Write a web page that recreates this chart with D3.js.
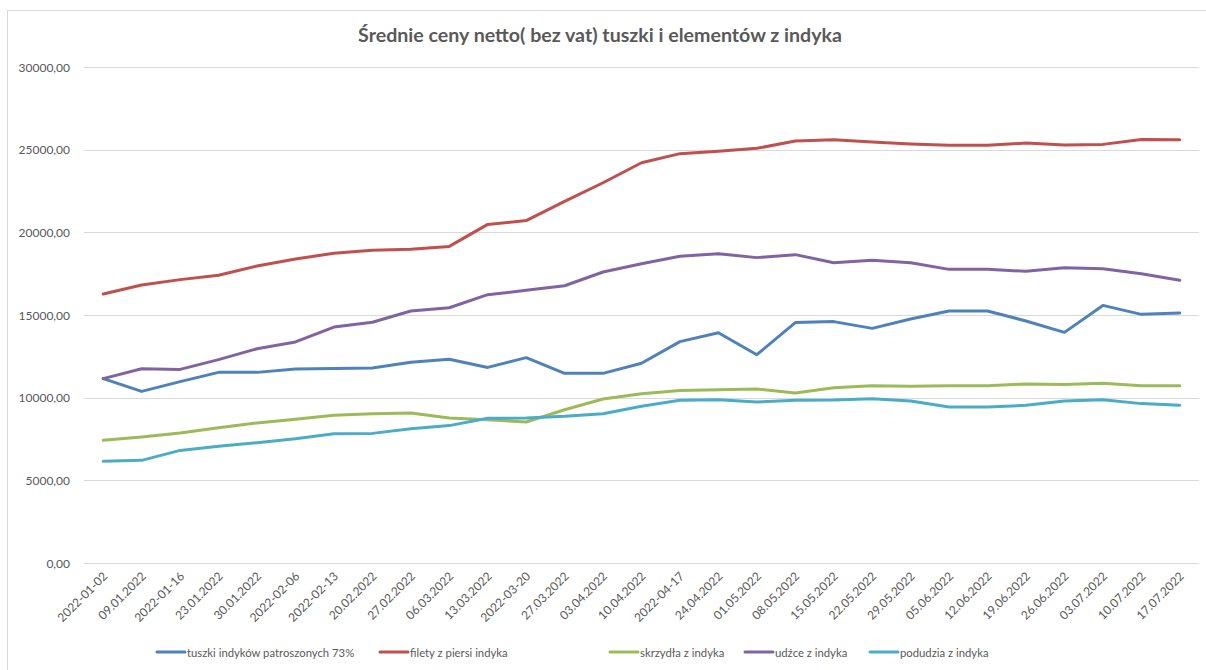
<!DOCTYPE html>
<html><head><meta charset="utf-8">
<script src="https://cdn.jsdelivr.net/npm/d3@7"></script>
<style>
html,body{margin:0;padding:0;background:#fff;}
svg{display:block;}
text{font-family:Lato,"Open Sans",sans-serif;fill:#595959;}
</style></head><body>
<svg id="c" width="1206" height="670"></svg>
<script>
const title = "Średnie ceny netto( bez vat) tuszki i elementów z indyka";
const categories = ["2022-01-02","09.01.2022","2022-01-16","23.01.2022","30.01.2022","2022-02-06","2022-02-13","20.02.2022","27.02.2022","06.03.2022","13.03.2022","2022-03-20","27.03.2022","03.04.2022","10.04.2022","2022-04-17","24.04.2022","01.05.2022","08.05.2022","15.05.2022","22.05.2022","29.05.2022","05.06.2022","12.06.2022","19.06.2022","26.06.2022","03.07.2022","10.07.2022","17.07.2022"];
const yTicks = [0,5000,10000,15000,20000,25000,30000];
const seriesNames = ["tuszki indyków patroszonych 73%","filety z piersi indyka","skrzydła z indyka","udźce z indyka","podudzia z indyka"];
const seriesColors = ["#4F81BD","#C0504D","#9BBB59","#8064A2","#4BACC6"];
const tuszki = [11150,10380,10970,11530,11530,11730,11770,11790,12140,12320,11830,12420,11470,11470,12080,13390,13930,12600,14540,14600,14190,14760,15240,15240,14640,13950,15580,15040,15120];
const filety = [16270,16810,17140,17400,17960,18390,18730,18910,18970,19150,20480,20710,21870,23000,24210,24760,24900,25080,25520,25600,25460,25340,25260,25260,25400,25280,25320,25620,25600];
const skrzydla = [7420,7620,7860,8180,8470,8690,8930,9030,9070,8770,8670,8530,9270,9920,10240,10440,10480,10520,10280,10600,10720,10690,10720,10720,10830,10790,10870,10720,10720];
const udzce = [11150,11750,11710,12300,12960,13370,14270,14560,15240,15440,16230,16490,16770,17600,18100,18550,18710,18470,18650,18160,18310,18160,17760,17760,17640,17860,17800,17500,17100];
const podudzia = [6150,6210,6810,7060,7280,7520,7820,7840,8120,8310,8750,8770,8870,9030,9480,9840,9880,9740,9840,9860,9940,9800,9430,9430,9540,9800,9880,9640,9540];
const seriesValues = [tuszki, filety, skrzydla, udzce, podudzia];

const svg = d3.select("#c");
// chart border
svg.append("rect").attr("x",7.5).attr("y",10.5).attr("width",1206).attr("height",680)
  .attr("fill","none").attr("stroke","#D9D9D9").attr("stroke-width",1);

const x = d3.scalePoint().domain(categories).range([84,1199]).padding(0.5);
const y = d3.scaleLinear().domain([0,30000]).range([563,67]);

// gridlines
svg.append("g").selectAll("line").data(yTicks).join("line")
  .attr("x1",84).attr("x2",1199)
  .attr("y1",d=>Math.round(y(d))+0.5).attr("y2",d=>Math.round(y(d))+0.5)
  .attr("stroke","#D9D9D9").attr("stroke-width",1);

// y axis labels
const fmt = v => d3.format(".2f")(v).replace(".",",");
svg.append("g").selectAll("text").data(yTicks).join("text")
  .attr("x",70).attr("y",d=>y(d)+4.5).attr("text-anchor","end")
  .attr("font-size",12).text(fmt);

// x axis labels
svg.append("g").selectAll("text").data(categories).join("text")
  .attr("transform",d=>`translate(${x(d)+5},${577}) rotate(-45)`)
  .attr("text-anchor","end").attr("font-size",12).text(d=>d);

// lines
const line = d3.line().x((d,i)=>x(categories[i])).y(d=>y(d));
svg.append("g").selectAll("path").data(seriesValues).join("path")
  .attr("d",line).attr("fill","none")
  .attr("stroke",(d,i)=>seriesColors[i]).attr("stroke-width",3)
  .attr("stroke-linejoin","round").attr("stroke-linecap","round");

// title
svg.append("text").attr("x",600).attr("y",42).attr("text-anchor","middle")
  .attr("font-size",19.6).attr("font-weight","bold").text(title);

// legend
const legendX = [157,380,610,745,870];
const lg = svg.append("g").selectAll("g").data(seriesNames).join("g")
  .attr("transform",(d,i)=>`translate(${legendX[i]},652)`);
lg.append("line").attr("x1",0).attr("x2",28).attr("y1",0).attr("y2",0)
  .attr("stroke",(d,i)=>seriesColors[i]).attr("stroke-width",3).attr("stroke-linecap","round");
lg.append("text").attr("x",30).attr("y",4.5).attr("font-size",11.3).text(d=>d);
</script>
</body></html>
